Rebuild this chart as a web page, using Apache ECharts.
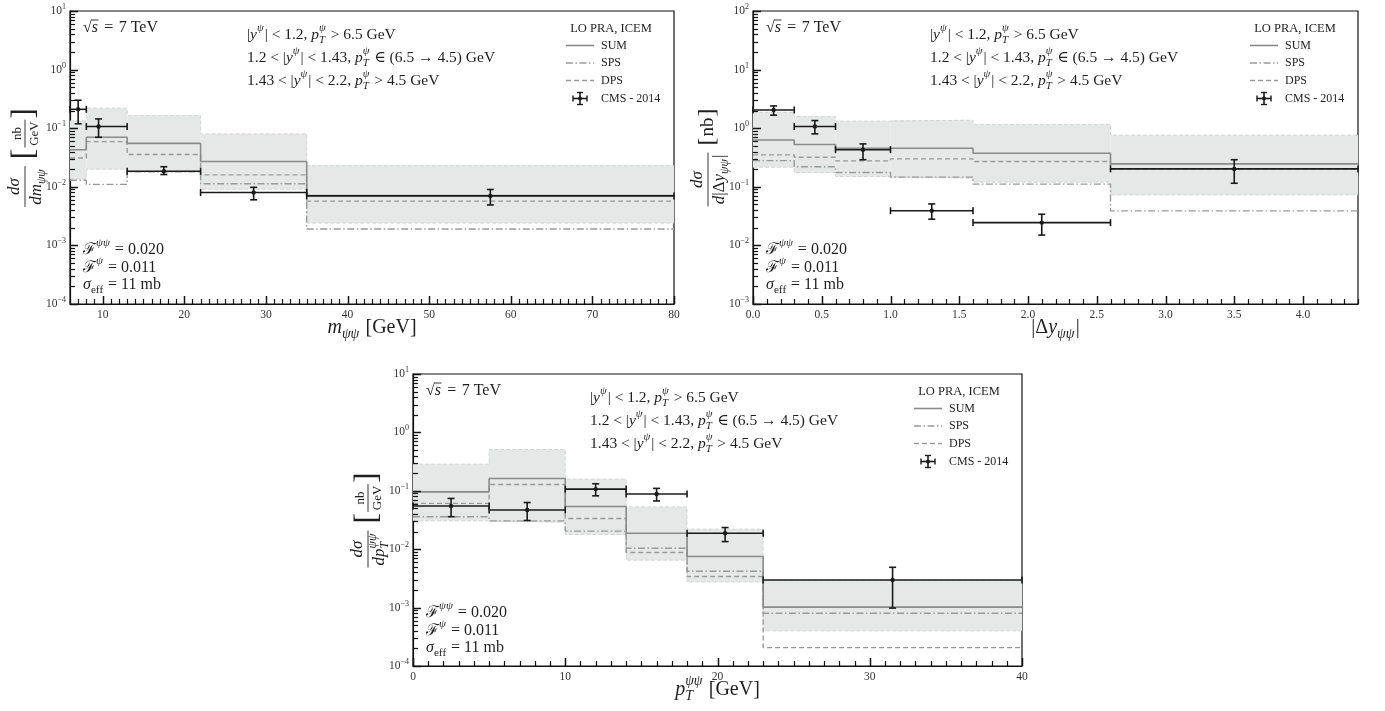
<!DOCTYPE html>
<html>
<head>
<meta charset="utf-8">
<title>Double J/psi production, LO PRA + ICEM vs CMS 2014</title>
<script src="https://cdn.jsdelivr.net/npm/echarts@6.0.0/dist/echarts.min.js"></script>
<style>
  html, body { margin: 0; padding: 0; background: #fff; }
  #chart { width: 1385px; height: 711px; }
</style>
</head>
<body>
<div id="chart"></div>
<script>
// ---------- invariant-mass distribution ----------
const mEdges   = [6, 8, 13, 22, 35, 80];
const mSum     = [0.043, 0.070, 0.055, 0.027, 0.0071];
const mDps     = [0.031, 0.059, 0.0355, 0.016, 0.0057];
const mSps     = [0.0129, 0.011, 0.018, 0.0113, 0.0019];
const mBandHi  = [0.133, 0.22, 0.164, 0.080, 0.023];
const mBandLo  = [0.0136, 0.020, 0.0182, 0.0091, 0.0024];
const mCmsX    = [7, 9.5, 17.5, 28.5, 57.5];
const mCmsXLo  = [6, 8, 13, 22, 35];
const mCmsXHi  = [8, 13, 22, 35, 80];
const mCmsY    = [0.21, 0.107, 0.0184, 0.0080, 0.0070];
const mCmsYLo  = [0.119, 0.070, 0.0162, 0.0060, 0.0049];
const mCmsYHi  = [0.30, 0.144, 0.022, 0.0098, 0.0090];
const mXTicks  = [10, 20, 30, 40, 50, 60, 70, 80];

// ---------- rapidity-difference distribution ----------
const dyEdges  = [0, 0.3, 0.6, 1.0, 1.6, 2.6, 4.4];
const dySum    = [0.63, 0.526, 0.456, 0.456, 0.374, 0.246];
const dyDps    = [0.35, 0.32, 0.277, 0.30, 0.27, 0.20];
const dySps    = [0.28, 0.22, 0.175, 0.146, 0.111, 0.0388];
const dyBandHi = [1.87, 1.58, 1.32, 1.37, 1.16, 0.76];
const dyBandLo = [0.216, 0.175, 0.15, 0.14, 0.12, 0.073];
const dyCmsX   = [0.15, 0.45, 0.8, 1.3, 2.1, 3.5];
const dyCmsXLo = [0, 0.3, 0.6, 1.0, 1.6, 2.6];
const dyCmsXHi = [0.3, 0.6, 1.0, 1.6, 2.6, 4.4];
const dyCmsY   = [2.05, 1.07, 0.43, 0.039, 0.0245, 0.202];
const dyCmsYLo = [1.67, 0.80, 0.29, 0.028, 0.015, 0.115];
const dyCmsYHi = [2.40, 1.35, 0.54, 0.051, 0.034, 0.29];
const dyXTicks = [0, 0.5, 1.0, 1.5, 2.0, 2.5, 3.0, 3.5, 4.0];

// ---------- pair transverse-momentum distribution ----------
const ptEdges  = [0, 5, 10, 14, 18, 23, 40];
const ptSum    = [0.096, 0.162, 0.054, 0.0188, 0.0075, 0.00102];
const ptDps    = [0.061, 0.128, 0.0336, 0.0088, 0.0034, 0.000206];
const ptSps    = [0.036, 0.0306, 0.0204, 0.0104, 0.0042, 0.00080];
const ptBandHi = [0.286, 0.51, 0.158, 0.053, 0.022, 0.0029];
const ptBandLo = [0.0306, 0.029, 0.0178, 0.0065, 0.00275, 0.0004];
const ptCmsX   = [2.5, 7.5, 12, 16, 20.5, 31.5];
const ptCmsXLo = [0, 5, 10, 14, 18, 23];
const ptCmsXHi = [5, 10, 14, 18, 23, 40];
const ptCmsY   = [0.055, 0.047, 0.107, 0.088, 0.0188, 0.00297];
const ptCmsYLo = [0.036, 0.031, 0.082, 0.067, 0.0135, 0.00098];
const ptCmsYHi = [0.074, 0.063, 0.132, 0.11, 0.0235, 0.0049];
const ptXTicks = [0, 10, 20, 30, 40];

// ---------- text ----------
const energyText  = '\u2004=\u20047 TeV';
const cutLines = [
  '|$y$^{$ψ$}| < 1.2, $p$_{$T$}^{$ψ$} > 6.5 GeV',
  '1.2 < |$y$^{$ψ$}| < 1.43, $p$_{$T$}^{$ψ$} ∈ (6.5 → 4.5) GeV',
  '1.43 < |$y$^{$ψ$}| < 2.2, $p$_{$T$}^{$ψ$} > 4.5 GeV'
];
const paramLines  = ['ℱ^{$ψψ$} = 0.020', 'ℱ^{$ψ$} = 0.011', '$σ$_{eff} = 11 mb'];
const legendTitle = 'LO PRA, ICEM';
const legendNames = ['SUM', 'SPS', 'DPS', 'CMS - 2014'];

// ---------- styling ----------
const TXT = '#1f1f1f';
const AX = '#111111';
const SERIF = '"Liberation Serif", "DejaVu Serif", serif';
const BAND_FILL = '#e6e7e7';
const BAND_EDGE = { color: '#d2d4d4', width: 1, type: [4, 2] };
const SUM_STYLE = { color: '#8a8a8a', width: 1.6, type: 'solid' };
const SPS_STYLE = { color: '#9a9a9a', width: 1.4, type: [7, 2.5, 1.5, 2.5] };
const DPS_STYLE = { color: '#9a9a9a', width: 1.4, type: [5, 3] };
const CMS_COLOR = '#1a1a1a';

const grids = [
  { left: 70,  top: 11,  width: 604, height: 293 },
  { left: 753, top: 11,  width: 605, height: 293 },
  { left: 413, top: 374, width: 609, height: 292 }
];

// ---------- helpers ----------
function seq(a, b, step) {
  const out = [];
  const n = Math.round((b - a) / step);
  for (let i = 0; i <= n; i++) out.push(+(a + i * step).toFixed(6));
  return out;
}
function decades(lo, hi) {
  const out = [];
  for (let e = Math.round(Math.log10(lo)); e <= Math.round(Math.log10(hi)); e++) out.push(Math.pow(10, e));
  return out;
}
function logMinor(lo, hi) {
  const out = [];
  for (let e = Math.round(Math.log10(lo)); e < Math.round(Math.log10(hi)); e++) {
    for (let k = 2; k <= 9; k++) out.push(k * Math.pow(10, e));
  }
  return out;
}
const meas = document.createElement('canvas').getContext('2d');
function tw(t, size, it) {
  meas.font = (it ? 'italic ' : '') + size + 'px ' + SERIF;
  return meas.measureText(t).width;
}
function parseMath(s) {
  const items = [];
  let buf = '', ital = false, i = 0;
  const flush = () => { if (buf) { items.push({ t: buf, i: ital }); buf = ''; } };
  while (i < s.length) {
    const c = s[i];
    if (c === '$') { flush(); ital = !ital; i++; continue; }
    if ((c === '_' || c === '^') && s[i + 1] === '{') {
      flush();
      const end = s.indexOf('}', i + 2);
      const inner = parseMath(s.slice(i + 2, end));
      let last = items[items.length - 1];
      if (!last || !last.script) { last = { script: true }; items.push(last); }
      last[c === '_' ? 'sub' : 'sup'] = inner;
      i = end + 1; continue;
    }
    buf += c; i++;
  }
  flush();
  return items;
}
function textEl(t, x, y, size, it, color) {
  return { type: 'text', x, y, silent: true, z: 100,
    style: { text: t, fontFamily: SERIF, fontSize: size, fontStyle: it ? 'italic' : 'normal',
             fill: color || TXT, align: 'left', verticalAlign: 'middle' } };
}
function mathEls(x, y, str, size, align, color) {
  const items = parseMath(str);
  const parts = [];
  let cx = 0;
  items.forEach(it => {
    if (it.script) {
      const ss = size * 0.7;
      let adv = 0;
      [['sup', -0.42], ['sub', 0.3]].forEach(([k, dy]) => {
        if (!it[k]) return;
        let sx = cx;
        it[k].forEach(q => { parts.push([q.t, sx, y + dy * size, ss, q.i]); sx += tw(q.t, ss, q.i); });
        adv = Math.max(adv, sx - cx);
      });
      cx += adv + size * 0.06;
    } else {
      parts.push([it.t, cx, y, size, it.i]);
      cx += tw(it.t, size, it.i);
    }
  });
  const off = align === 'center' ? -cx / 2 : align === 'right' ? -cx : 0;
  return { els: parts.map(p => textEl(p[0], x + off + p[1], p[2], p[3], p[4], color)), width: cx };
}
function lineEl(x1, y1, x2, y2, stroke, width, dash) {
  const st = { stroke, lineWidth: width };
  if (dash) st.lineDash = dash;
  return { type: 'line', silent: true, z: 100, shape: { x1, y1, x2, y2 }, style: st };
}
function fracEls(x, top, bottom, size) {
  const w1 = mathEls(0, 0, top, size).width;
  const w2 = mathEls(0, 0, bottom, size).width;
  const W = Math.max(w1, w2) + size * 0.25;
  const els = [
    ...mathEls(x + W / 2, -size * 0.6, top, size, 'center').els,
    ...mathEls(x + W / 2, size * 0.7, bottom, size, 'center').els,
    lineEl(x, 0, x + W, 0, TXT, 0.9)
  ];
  return { els, width: W };
}
// rotated axis title: fraction followed by a bracketed unit
function yTitle(cx, cy, num, den, unitNum, unitDen) {
  const f = fracEls(0, num, den, 17);
  const children = [...f.els];
  let x = f.width + 7;
  const br = unitDen ? 32 : 24;
  children.push(textEl('[', x, 0, br, false)); x += tw('[', br) + 1;
  if (unitDen) {
    const u = fracEls(x, unitNum, unitDen, 13);
    children.push(...u.els); x += u.width + 1;
  } else {
    const u = mathEls(x, 0, unitNum, 19);
    children.push(...u.els); x += u.width + 1;
  }
  children.push(textEl(']', x, 0, br, false)); x += tw(']', br);
  children.forEach(c => {
    if (c.type === 'text') c.x -= x / 2;
    else { c.shape.x1 -= x / 2; c.shape.x2 -= x / 2; }
  });
  return { type: 'group', x: cx, y: cy, rotation: Math.PI / 2, children };
}
function stepData(edges, vals) {
  const d = vals.map((v, i) => [edges[i], v]);
  d.push([edges[edges.length - 1], vals[vals.length - 1]]);
  return d;
}

// ---------- panels ----------
const panels = [
  { edges: mEdges, sum: mSum, dps: mDps, sps: mSps, hi: mBandHi, lo: mBandLo,
    cx: mCmsX, cxl: mCmsXLo, cxh: mCmsXHi, cy: mCmsY, cyl: mCmsYLo, cyh: mCmsYHi,
    xMin: 6, xMax: 80, xTicks: mXTicks, xMinor: seq(6, 80, 1), xFmt: v => String(v),
    yMin: 1e-4, yMax: 10,
    xTitle: '$m$_{$ψψ$} [GeV]', yNum: '$dσ$', yDen: '$dm$_{$ψψ$}', uNum: 'nb', uDen: 'GeV' },
  { edges: dyEdges, sum: dySum, dps: dyDps, sps: dySps, hi: dyBandHi, lo: dyBandLo,
    cx: dyCmsX, cxl: dyCmsXLo, cxh: dyCmsXHi, cy: dyCmsY, cyl: dyCmsYLo, cyh: dyCmsYHi,
    xMin: 0, xMax: 4.4, xTicks: dyXTicks, xMinor: seq(0, 4.4, 0.1), xFmt: v => Number(v).toFixed(1),
    yMin: 1e-3, yMax: 100,
    xTitle: '|Δ$y$_{$ψψ$}|', yNum: '$dσ$', yDen: '$d$|Δ$y$_{$ψψ$}|', uNum: 'nb', uDen: null },
  { edges: ptEdges, sum: ptSum, dps: ptDps, sps: ptSps, hi: ptBandHi, lo: ptBandLo,
    cx: ptCmsX, cxl: ptCmsXLo, cxh: ptCmsXHi, cy: ptCmsY, cyl: ptCmsYLo, cyh: ptCmsYHi,
    xMin: 0, xMax: 40, xTicks: ptXTicks, xMinor: seq(0, 40, 1), xFmt: v => String(v),
    yMin: 1e-4, yMax: 10,
    xTitle: '$p$_{$T$}^{$ψψ$} [GeV]', yNum: '$dσ$', yDen: '$dp$_{$T$}^{$ψψ$}', uNum: 'nb', uDen: 'GeV' }
];

const xAxes = [], yAxes = [], series = [], graphics = [];

panels.forEach((p, g) => {
  const gr = grids[g];
  const L = gr.left, T = gr.top, R = gr.left + gr.width, B = gr.top + gr.height;

  xAxes.push({
    type: 'value', gridIndex: g, position: 'bottom', min: p.xMin, max: p.xMax,
    axisLine: { show: true, onZero: false, lineStyle: { color: AX, width: 1.2 } },
    axisTick: { show: false },
    axisLabel: { show: true, customValues: p.xTicks, formatter: p.xFmt, color: '#333',
                 fontFamily: SERIF, fontSize: 11.5, margin: 5 },
    splitLine: { show: false }
  });
  yAxes.push({
    type: 'log', logBase: 10, gridIndex: g, position: 'left', min: p.yMin, max: p.yMax,
    axisLine: { show: true, onZero: false, lineStyle: { color: AX, width: 1.2 } },
    axisTick: { show: false },
    axisLabel: {
      margin: 4,
      formatter: v => '{a|10}{b|' + String(Math.round(Math.log10(v))).replace('-', '−') + '}',
      rich: {
        a: { fontFamily: SERIF, fontSize: 11.5, color: '#333', lineHeight: 16 },
        b: { fontFamily: SERIF, fontSize: 8, color: '#333', verticalAlign: 'top', lineHeight: 16 }
      }
    },
    splitLine: { show: false }, minorTick: { show: false }
  });

  // uncertainty band
  series.push({
    type: 'custom', xAxisIndex: g, yAxisIndex: g, z: 1, silent: true, clip: true,
    data: p.lo.map((v, i) => [p.edges[i], p.edges[i + 1], v, p.hi[i]]),
    encode: { x: [0, 1], y: [2, 3] },
    renderItem(params, api) {
      const a = api.coord([api.value(0), api.value(3)]);
      const b = api.coord([api.value(1), api.value(2)]);
      return { type: 'rect', shape: { x: a[0], y: a[1], width: b[0] - a[0], height: b[1] - a[1] },
               style: { fill: BAND_FILL } };
    }
  });
  [p.hi, p.lo].forEach(vals => series.push({
    type: 'line', xAxisIndex: g, yAxisIndex: g, step: 'end', z: 2, silent: true,
    symbol: 'none', data: stepData(p.edges, vals), lineStyle: BAND_EDGE
  }));

  // model curves
  [[p.dps, DPS_STYLE], [p.sps, SPS_STYLE], [p.sum, SUM_STYLE]].forEach(([vals, st]) => series.push({
    type: 'line', xAxisIndex: g, yAxisIndex: g, step: 'end', z: 3, silent: true,
    symbol: 'none', data: stepData(p.edges, vals), lineStyle: st
  }));

  // measurement with error bars
  series.push({
    type: 'custom', xAxisIndex: g, yAxisIndex: g, z: 10, silent: true, clip: false,
    data: p.cx.map((v, i) => [v, p.cy[i], p.cxl[i], p.cxh[i], p.cyl[i], p.cyh[i]]),
    encode: { x: 0, y: 1 },
    renderItem(params, api) {
      const c = api.coord([api.value(0), api.value(1)]);
      const l = api.coord([api.value(2), api.value(1)]);
      const r = api.coord([api.value(3), api.value(1)]);
      const lo = api.coord([api.value(0), api.value(4)]);
      const hi = api.coord([api.value(0), api.value(5)]);
      const st = { stroke: CMS_COLOR, lineWidth: 1.6 };
      const cap = 3.5;
      const seg = (x1, y1, x2, y2) => ({ type: 'line', shape: { x1, y1, x2, y2 }, style: st });
      return { type: 'group', children: [
        seg(l[0], c[1], r[0], c[1]),
        seg(l[0], c[1] - cap, l[0], c[1] + cap),
        seg(r[0], c[1] - cap, r[0], c[1] + cap),
        seg(c[0], lo[1], c[0], hi[1]),
        seg(c[0] - cap, lo[1], c[0] + cap, lo[1]),
        seg(c[0] - cap, hi[1], c[0] + cap, hi[1]),
        { type: 'circle', shape: { cx: c[0], cy: c[1], r: 2.2 }, style: { fill: CMS_COLOR } }
      ] };
    }
  });

  // annotations: collision energy
  const sz = 16;
  const sx = L + 13, sy = T + 17;
  const rootW = tw('√', sz);
  graphics.push(textEl('√', sx, sy, sz, false));
  graphics.push(textEl('s', sx + rootW, sy, sz, true));
  graphics.push(lineEl(sx + rootW - 0.5, sy - sz * 0.5, sx + rootW + tw('s', sz, true) + 0.5, sy - sz * 0.5, TXT, 0.9));
  graphics.push(...mathEls(sx + rootW + tw('s', sz, true) + 1, sy, energyText, sz).els);

  // kinematic cuts
  cutLines.forEach((s, i) => graphics.push(...mathEls(L + 177, T + 24 + i * 23, s, 15.5).els));
  // model parameters
  paramLines.forEach((s, i) => graphics.push(...mathEls(L + 13, T + 239 + i * 17.5, s, 16).els));

  // legend
  const lx0 = R - 108, lx1 = R - 80, ltx = R - 73;
  const rows = [T + 34.5, T + 52, T + 69.5, T + 87.5];
  graphics.push(...mathEls(R - 63, T + 17.5, legendTitle, 12.5, 'center').els);
  graphics.push(lineEl(lx0, rows[0], lx1, rows[0], SUM_STYLE.color, SUM_STYLE.width));
  graphics.push(lineEl(lx0, rows[1], lx1, rows[1], SPS_STYLE.color, SPS_STYLE.width, SPS_STYLE.type));
  graphics.push(lineEl(lx0, rows[2], lx1, rows[2], DPS_STYLE.color, DPS_STYLE.width, DPS_STYLE.type));
  const mx = (lx0 + lx1) / 2, my = rows[3];
  graphics.push(lineEl(mx - 7, my, mx + 7, my, CMS_COLOR, 1.6));
  graphics.push(lineEl(mx - 7, my - 3, mx - 7, my + 3, CMS_COLOR, 1.4));
  graphics.push(lineEl(mx + 7, my - 3, mx + 7, my + 3, CMS_COLOR, 1.4));
  graphics.push(lineEl(mx, my - 6, mx, my + 6, CMS_COLOR, 1.6));
  graphics.push(lineEl(mx - 3, my - 6, mx + 3, my - 6, CMS_COLOR, 1.4));
  graphics.push(lineEl(mx - 3, my + 6, mx + 3, my + 6, CMS_COLOR, 1.4));
  graphics.push({ type: 'circle', silent: true, z: 100, shape: { cx: mx, cy: my, r: 2 }, style: { fill: CMS_COLOR } });
  legendNames.forEach((n, i) => graphics.push(textEl(n, ltx, rows[i], 12, false)));

  // axis titles
  graphics.push(...mathEls((L + R) / 2, B + 24, p.xTitle, 20, 'center').els);
  graphics.push(yTitle(L - 45, (T + B) / 2, p.yNum, p.yDen, p.uNum, p.uDen));
});

const chart = echarts.init(document.getElementById('chart'), null, { renderer: 'canvas' });
chart.setOption({
  animation: false,
  backgroundColor: '#ffffff',
  grid: grids.map(g => Object.assign({ show: true, borderColor: AX, borderWidth: 1.2, containLabel: false }, g)),
  xAxis: xAxes,
  yAxis: yAxes,
  series
});

// inward major/minor tick marks, positioned through each grid's axis scales
const tickEls = [];
panels.forEach((p, g) => {
  const gr = grids[g];
  const B = gr.top + gr.height, L = gr.left;
  const toPx = (x, y) => chart.convertToPixel({ gridIndex: g }, [x, y]);
  const xTick = (v, len, w) => {
    const px = Math.round(toPx(v, p.yMin)[0]) + 0.5;
    tickEls.push(lineEl(px, B, px, B - len, AX, w));
  };
  const yTick = (v, len, w) => {
    const py = Math.round(toPx(p.xMin, v)[1]) + 0.5;
    tickEls.push(lineEl(L, py, L + len, py, AX, w));
  };
  p.xTicks.forEach(v => xTick(v, 8, 1.5));
  p.xMinor.filter(v => !p.xTicks.includes(v)).forEach(v => xTick(v, 5, 1.2));
  decades(p.yMin, p.yMax).forEach(v => yTick(v, 8, 1.5));
  logMinor(p.yMin, p.yMax).forEach(v => yTick(v, 5, 1.2));
});
chart.setOption({ graphic: { elements: graphics.concat(tickEls) } });
</script>
</body>
</html>
